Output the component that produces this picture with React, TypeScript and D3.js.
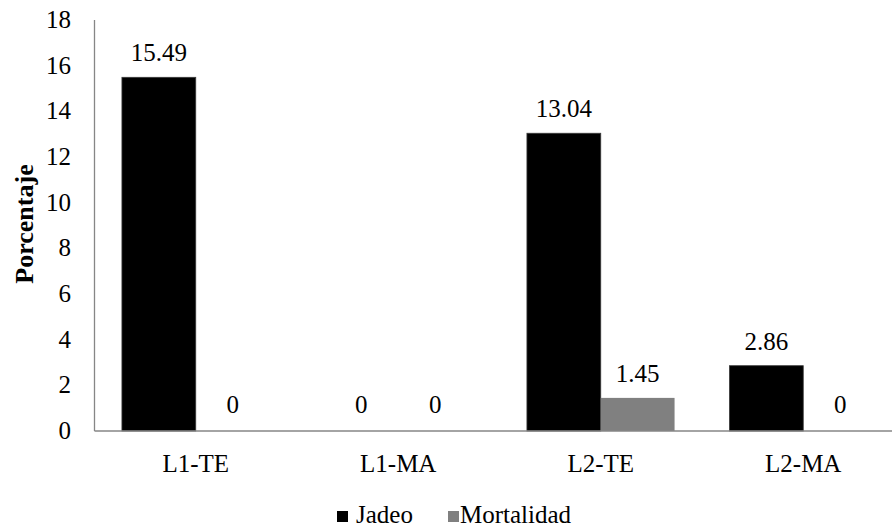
import React from "react";
import * as d3 from "d3";

const categories = ["L1-TE", "L1-MA", "L2-TE", "L2-MA"];
const seriesNames = ["Jadeo", "Mortalidad"];
const jadeo = [15.49, 0, 13.04, 2.86];
const mortalidad = [0, 0, 1.45, 0];
const yTicks = [0, 2, 4, 6, 8, 10, 12, 14, 16, 18];
const seriesColors = ["#000000", "#808080"];

const W = 892;
const H = 529;
const left = 94.5;
const right = 904.5;
const top = 20;
const bottom = 431;
const font = "Liberation Serif";
const fs = 25;

export default function App() {
  const values = [jadeo, mortalidad];
  const pad = 0.271;
  const x = d3
    .scaleBand<string>()
    .domain(categories)
    .range([left, right])
    .paddingInner(pad)
    .paddingOuter(pad / 2);
  const xs = d3.scaleBand<string>().domain(seriesNames).range([0, x.bandwidth()]);
  const y = d3.scaleLinear().domain([0, 18]).range([bottom, top]);

  const fmt = (v: number) => (v === 0 ? "0" : v.toFixed(2));

  return (
    <svg
      width={W}
      height={H}
      style={{ position: "absolute", left: 0, top: 0, background: "#fff" }}
    >
      {/* y axis */}
      <line x1={left} x2={left} y1={top} y2={bottom} stroke="#868686" strokeWidth={1.3} />
      {yTicks.map((t) => (
        <text key={t} x={71} y={y(t) + 8} textAnchor="end" fontSize={fs} fontFamily={font} fill="#000">
          {t}
        </text>
      ))}
      <text
        transform={`translate(33,224) rotate(-90)`}
        textAnchor="middle"
        fontSize={26}
        fontFamily={font}
        fontWeight="bold"
        fill="#000"
      >
        Porcentaje
      </text>

      {/* bars */}
      {categories.map((c, i) => (
        <g key={c} transform={`translate(${x(c)},0)`}>
          {seriesNames.map((s, j) => {
            const v = values[j][i];
            const bx = xs(s)!;
            const bw = xs.bandwidth();
            return (
              <g key={s}>
                {v > 0 && (
                  <rect
                    x={bx}
                    y={y(v)}
                    width={bw}
                    height={bottom - y(v)}
                    fill={seriesColors[j]}
                    stroke={j === 0 ? "#3a3a3a" : "none"}
                    strokeWidth={0.8}
                  />
                )}
                <text
                  x={bx + bw / 2}
                  y={y(v) - (v > 0 ? 16 : 18)}
                  textAnchor="middle"
                  fontSize={fs}
                  fontFamily={font}
                  fill="#000"
                >
                  {fmt(v)}
                </text>
              </g>
            );
          })}
          <text x={x.bandwidth() / 2} y={472} textAnchor="middle" fontSize={fs} fontFamily={font} fill="#000">
            {c}
          </text>
        </g>
      ))}

      {/* x axis */}
      <line x1={left} x2={right} y1={bottom} y2={bottom} stroke="#868686" strokeWidth={1.3} />

      {/* legend */}
      <g>
        <rect x={337} y={511} width={11} height={11} fill={seriesColors[0]} />
        <text x={356} y={523} fontSize={fs} fontFamily={font} fill="#000">
          {seriesNames[0]}
        </text>
        <rect x={448} y={511} width={11} height={11} fill={seriesColors[1]} />
        <text x={460} y={523} fontSize={fs} fontFamily={font} fill="#000">
          {seriesNames[1]}
        </text>
      </g>
    </svg>
  );
}
